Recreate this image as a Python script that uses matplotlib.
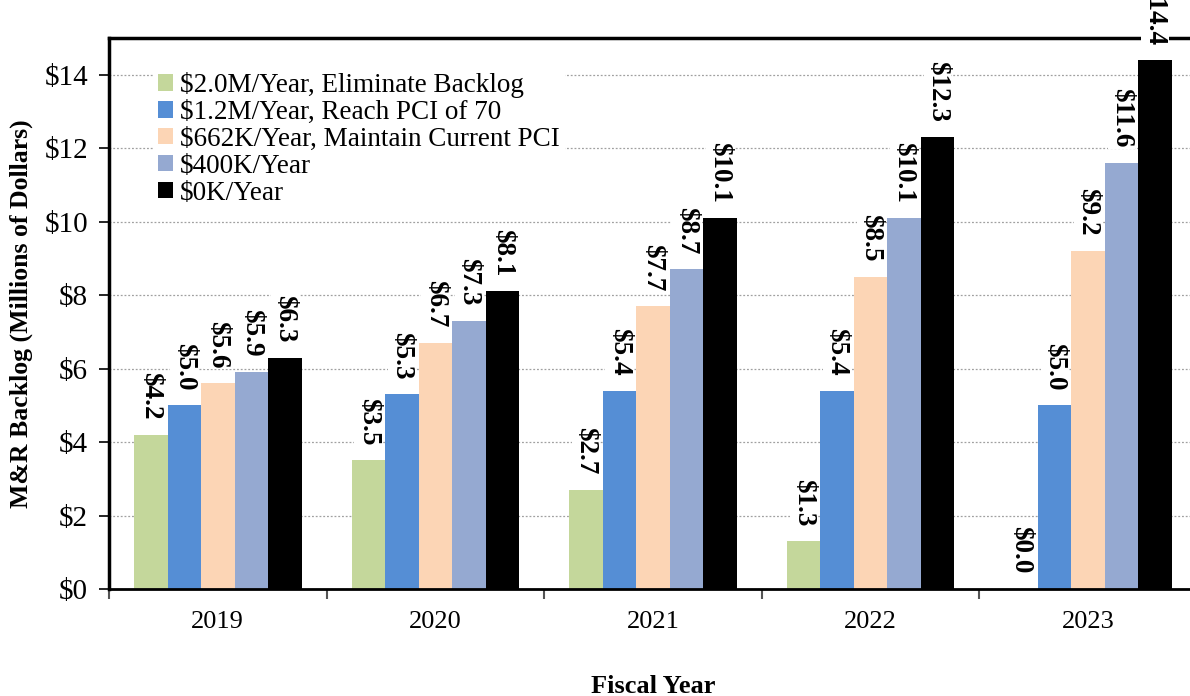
import matplotlib
matplotlib.use("Agg")
import matplotlib.pyplot as plt
import numpy as np

plt.rcParams["font.family"] = ["Liberation Serif", "DejaVu Serif"]

years = ["2019", "2020", "2021", "2022", "2023"]
series_names = [
    "$2.0M/Year, Eliminate Backlog",
    "$1.2M/Year, Reach PCI of 70",
    "$662K/Year, Maintain Current PCI",
    "$400K/Year",
    "$0K/Year",
]
eliminate_backlog = [4.2, 3.5, 2.7, 1.3, 0.0]
reach_pci_70 = [5.0, 5.3, 5.4, 5.4, 5.0]
maintain_pci = [5.6, 6.7, 7.7, 8.5, 9.2]
funding_400k = [5.9, 7.3, 8.7, 10.1, 11.6]
funding_0k = [6.3, 8.1, 10.1, 12.3, 14.4]

colors = ["#C4D79B", "#558ED5", "#FCD5B5", "#95A9D1", "#000000"]
all_series = [eliminate_backlog, reach_pci_70, maintain_pci, funding_400k, funding_0k]

fig = plt.figure(figsize=(11.9, 6.96), dpi=100)
ax = fig.add_axes([0.0916, 0.1537, 0.914, 0.7917])

x = np.arange(len(years))
width = 0.154
for i, (name, values, color) in enumerate(zip(series_names, all_series, colors)):
    offsets = x + (i - 2) * width
    ax.bar(offsets, values, width, color=color, label=name, zorder=2)
    for xpos, val in zip(offsets, values):
        ax.annotate(f"${val:.1f}", (xpos, val), xytext=(0, 11), textcoords="offset points",
                    rotation=270, ha="center", va="bottom", fontsize=19.5, fontweight="bold",
                    bbox=dict(facecolor="white", edgecolor="none", pad=1.0),
                    annotation_clip=False, clip_on=False, zorder=5)

ax.set_xlim(-0.5, len(years) - 0.5)
ax.set_ylim(0, 15)
ax.set_yticks(np.arange(0, 15, 2))
ax.set_yticklabels([f"${v}" for v in range(0, 15, 2)], fontsize=21)
ax.yaxis.grid(True, linestyle=(0, (1.5, 1.5)), color="#a0a0a0", linewidth=0.9, zorder=0)
ax.set_axisbelow(True)

# boundary ticks between years, labels centred under each group
ax.set_xticks(np.arange(-0.5, len(years), 1.0))
ax.set_xticklabels([])
ax.set_xticks(x, minor=True)
ax.set_xticklabels(years, minor=True, fontsize=19)
ax.tick_params(axis="x", which="minor", length=0, pad=16)
ax.tick_params(axis="x", which="major", length=7, width=1.5, color="#555555")
ax.tick_params(axis="y", length=7, width=1.2, pad=8)

ax.spines["left"].set_linewidth(2.5)
ax.spines["top"].set_linewidth(2.5)
ax.spines["bottom"].set_linewidth(2.0)
ax.spines["right"].set_visible(False)

ax.set_ylabel("M&R Backlog (Millions of Dollars)", fontsize=18.5, fontweight="bold", labelpad=8)
ax.set_xlabel("Fiscal Year", fontsize=19, fontweight="bold", labelpad=30)

leg = ax.legend(loc="upper left", bbox_to_anchor=(0.04, 0.948), fontsize=19.5, frameon=True,
                handlelength=0.55, handleheight=0.55, handletextpad=0.25, labelspacing=0.07,
                borderpad=0.2, borderaxespad=0)
leg.get_frame().set_edgecolor("none")
leg.get_frame().set_facecolor("white")
leg.get_frame().set_alpha(1.0)
leg.set_zorder(4)

fig.savefig("out.png", dpi=100)
